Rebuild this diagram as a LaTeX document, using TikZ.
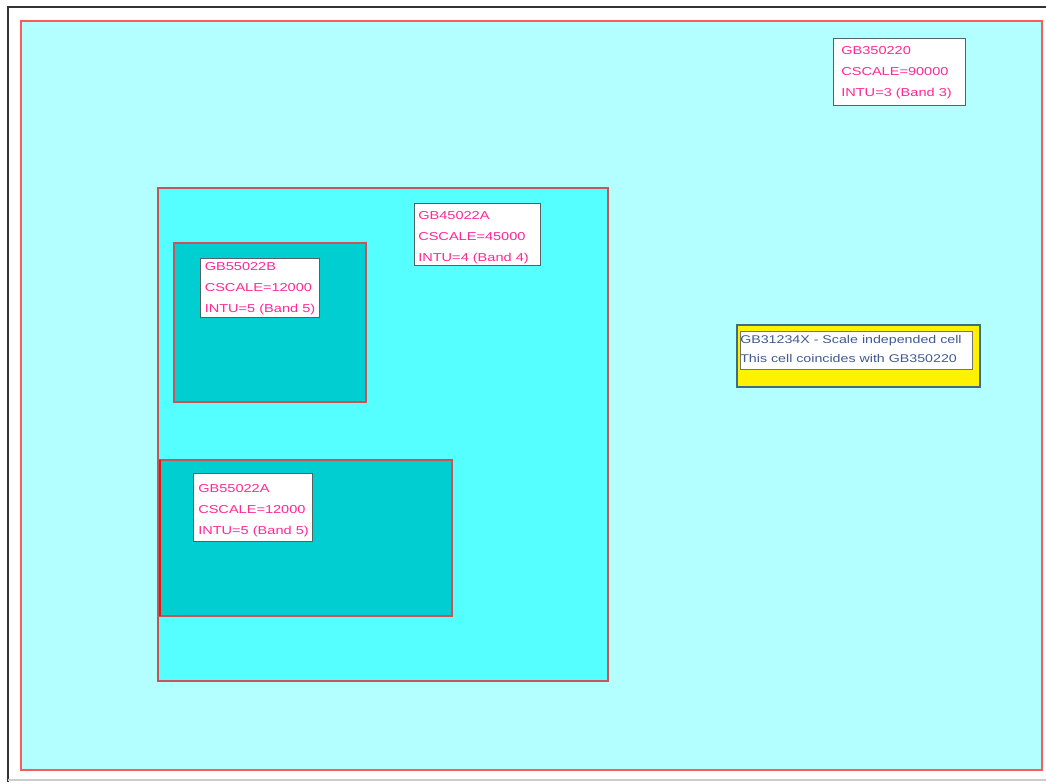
\documentclass[tikz,border=0pt]{standalone}
\usepackage{fontspec}
\newfontfamily\lblfont[FakeStretch=1.27]{Liberation Sans}
\definecolor{cellA}{RGB}{179,255,255}
\definecolor{cellB}{RGB}{85,255,255}
\definecolor{cellC}{RGB}{0,206,208}
\definecolor{redline}{RGB}{255,90,90}
\definecolor{redgray}{RGB}{200,85,85}
\definecolor{brightred}{RGB}{230,20,20}
\definecolor{boxline}{RGB}{80,100,100}
\definecolor{pinktext}{RGB}{255,40,150}
\definecolor{bluetext}{RGB}{65,90,145}
\definecolor{yelline}{RGB}{60,110,130}
\tikzset{
  cell/.style={draw=redgray, line width=1.5pt},
  lblbox/.style={draw=boxline, fill=white, line width=0.75pt},
  lbltxt/.style={anchor=north west, inner sep=0pt, align=left, text=pinktext,
    font=\lblfont\fontsize{8.6}{15.75}\selectfont},
  ytxt/.style={anchor=north west, inner sep=0pt, align=left, text=bluetext,
    font=\lblfont\fontsize{8.4}{14.25}\selectfont},
}
\begin{document}
\begin{tikzpicture}[x=0.75pt,y=-0.75pt]
\useasboundingbox (0,0) rectangle (1046,782);
\fill[white] (0,0) rectangle (1046,782);
% outer frame
\draw[black!80, line width=1.5pt] (7.5,782) -- (7.5,6.5) -- (1046,6.5);
\draw[black!20, line width=1pt] (7.5,780) -- (1046,780);
% outermost cell
\draw[fill=cellA, draw=redline, line width=1.5pt] (20.5,21) rectangle (1041.5,770);
% middle cell
\draw[cell, fill=cellB] (158,188) rectangle (608,681);
% inner cells
\draw[cell, fill=cellC] (174,243) rectangle (366,402);
\draw[cell, fill=cellC] (160,460) rectangle (452,616);
\draw[draw=brightred, line width=1.5pt] (160,460) -- (160,616);
% label boxes
\node[lblbox, anchor=north west, minimum width=132*0.75pt, minimum height=67*0.75pt, inner sep=0pt] (b1) at (833,38) {};
\node[lbltxt] (t1) at (841,46.5) {GB350220\\CSCALE=90000\\INTU=3 (Band 3)};
\node[lblbox, anchor=north west, minimum width=126*0.75pt, minimum height=62*0.75pt, inner sep=0pt] (b2) at (414,203) {};
\node[lbltxt] (t2) at (418,211.5) {GB45022A\\CSCALE=45000\\INTU=4 (Band 4)};
\node[lblbox, anchor=north west, minimum width=119*0.75pt, minimum height=59*0.75pt, inner sep=0pt] (b3) at (200,258) {};
\node[lbltxt] (t3) at (204.5,262.5) {GB55022B\\CSCALE=12000\\INTU=5 (Band 5)};
\node[lblbox, anchor=north west, minimum width=119*0.75pt, minimum height=68*0.75pt, inner sep=0pt] (b4) at (193,473) {};
\node[lbltxt] (t4) at (198,484) {GB55022A\\CSCALE=12000\\INTU=5 (Band 5)};
% yellow cell
\node[draw=yelline, fill=yellow, line width=1.5pt, anchor=north west, minimum width=243*0.75pt, minimum height=62*0.75pt, inner sep=0pt] (y1) at (735.5,323.5) {};
\node[draw=black!55, fill=white, line width=0.75pt, anchor=north west, minimum width=232*0.75pt, minimum height=38*0.75pt, inner sep=0pt] (y2) at (739.5,331) {};
\node[ytxt] (t5) at (740,335.5) {GB31234X - Scale independed cell\\This cell coincides with GB350220};
\end{tikzpicture}
\end{document}
